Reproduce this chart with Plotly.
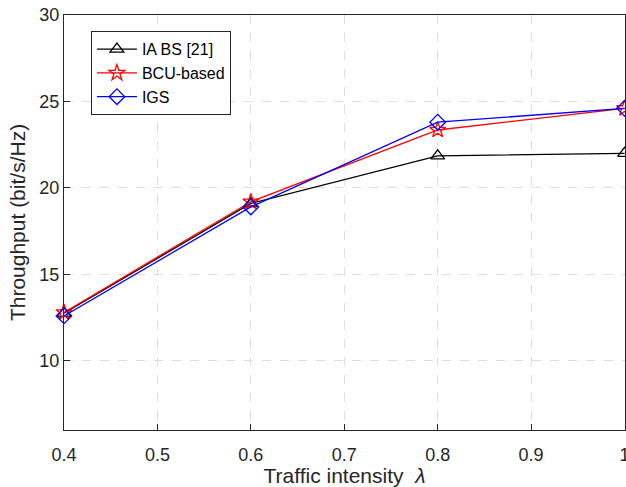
import plotly.graph_objects as go

x_vals = [0.4, 0.6, 0.8, 1.0]
ia_bs = [12.75, 19.1, 21.85, 22.0]
bcu = [12.8, 19.2, 23.35, 24.6]
igs = [12.6, 18.9, 23.8, 24.6]
names = ["IA BS [21]", "BCU-based", "IGS"]
x_ticks = [0.4, 0.5, 0.6, 0.7, 0.8, 0.9, 1.0]
x_tick_text = ["0.4", "0.5", "0.6", "0.7", "0.8", "0.9", "1"]
y_ticks = [10, 15, 20, 25, 30]

FONT = "Liberation Sans, Arial, Helvetica"
fig = go.Figure()
styles = [("black", "triangle-up-open", ia_bs),
          ("red", "star-open", bcu),
          ("blue", "diamond-open", igs)]
for name, (col, sym, ys) in zip(names, styles):
    fig.add_trace(go.Scatter(
        x=x_vals, y=ys, mode="lines+markers", name=name,
        line=dict(color=col, width=1.3),
        marker=dict(symbol=sym, size=12, color=col, line=dict(width=1.3, color=col)),
        cliponaxis=False,
    ))

axis_common = dict(
    showline=True, linecolor="#262626", linewidth=1, mirror=True,
    ticks="inside", ticklen=6, tickcolor="#262626",
    showgrid=True, gridcolor="#dedede", griddash="dash", gridwidth=1,
    zeroline=False, automargin=False,
    tickfont=dict(family=FONT, size=18, color="#262626"),
)
fig.update_xaxes(range=[0.4, 1.0005], tickvals=x_ticks, ticktext=x_tick_text,
                 ticklabelstandoff=8, ticklabeloverflow="allow",
                 title=dict(text="Traffic intensity  <i>λ</i>", standoff=10,
                            font=dict(family=FONT, size=21, color="#262626")),
                 **axis_common)
fig.update_yaxes(range=[6, 30], tickvals=y_ticks,
                 title=dict(text="Throughput (bit/s/Hz)", standoff=8,
                            font=dict(family=FONT, size=21, color="#262626")),
                 **axis_common)
fig.update_layout(
    width=626, height=487,
    margin=dict(l=64, r=1, t=15, b=57),
    plot_bgcolor="white", paper_bgcolor="white",
    legend=dict(x=0.048, y=0.961, xanchor="left", yanchor="top",
                bgcolor="white", bordercolor="#262626", borderwidth=1,
                font=dict(family=FONT, size=16, color="black"),
                tracegroupgap=0, itemwidth=40),
    showlegend=True,
)
fig.write_html("out.html", config={"displayModeBar": False},
               post_script="document.body.style.margin='0';document.body.style.overflow='hidden';")
